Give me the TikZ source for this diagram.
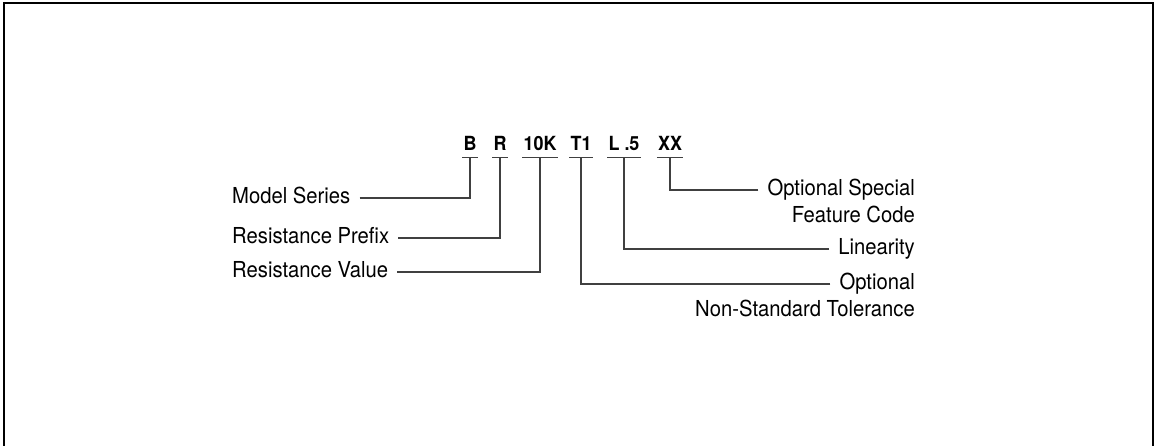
\documentclass[tikz,border=0pt]{standalone}
\usepackage{fontspec}
\setmainfont{TeX Gyre Heros}[FakeStretch=0.92]
\usepackage{tikz}

\begin{document}
\begin{tikzpicture}[x=1pt,y=-1pt,
    code/.style={font=\fontsize{19.5}{22}\selectfont\bfseries, anchor=base, inner xsep=1pt, inner ysep=6pt, text height=13pt, text depth=0pt},
    lbl/.style={font=\fontsize{22}{24}\selectfont, inner xsep=9pt, inner ysep=4pt, text height=15pt, text depth=4pt},
    lead/.style={draw=black!75, line width=1.2pt}]
    \useasboundingbox (0,0) rectangle (1156,446);
    \draw[line width=2.8pt] (4,446) |- (1153,3) -- (1153,446);
    \node[code] (cB) at (470,151) {B};
    \node[code] (cR) at (500,151) {R};
    \node[code] (cK) at (540,151) {10K};
    \node[code] (cT) at (581,151) {T1};
    \node[code] (cL) at (624,151) {L .5};
    \node[code] (cX) at (670,151) {XX};
    \foreach \c in {cB,cR,cK,cT,cL,cX}
      \draw[lead] (\c.south west) -- (\c.south east);
    \node[lbl, anchor=west] (ms) at (223,198) {Model Series};
    \node[lbl, anchor=west] (rp) at (223,238) {Resistance Prefix};
    \node[lbl, anchor=west] (rv) at (223,272) {Resistance Value};
    \node[lbl, anchor=east] (fc) at (924,190) {Optional Special};
    \node[lbl, anchor=north east] (fc2) at (fc.south east) {Feature Code};
    \node[lbl, anchor=east] (li) at (924,249) {Linearity};
    \node[lbl, anchor=east] (tl) at (924,284) {Optional};
    \node[lbl, anchor=north east] (tl2) at (tl.south east) {Non-Standard Tolerance};
    \draw[lead] (ms.east) -| (cB.south);
    \draw[lead] (rp.east) -| (cR.south);
    \draw[lead] (rv.east) -| (cK.south);
    \draw[lead] (fc.west) -| (cX.south);
    \draw[lead] (li.west) -| (cL.south);
    \draw[lead] (tl.west) -| (cT.south);
  \end{tikzpicture}
\end{document}
